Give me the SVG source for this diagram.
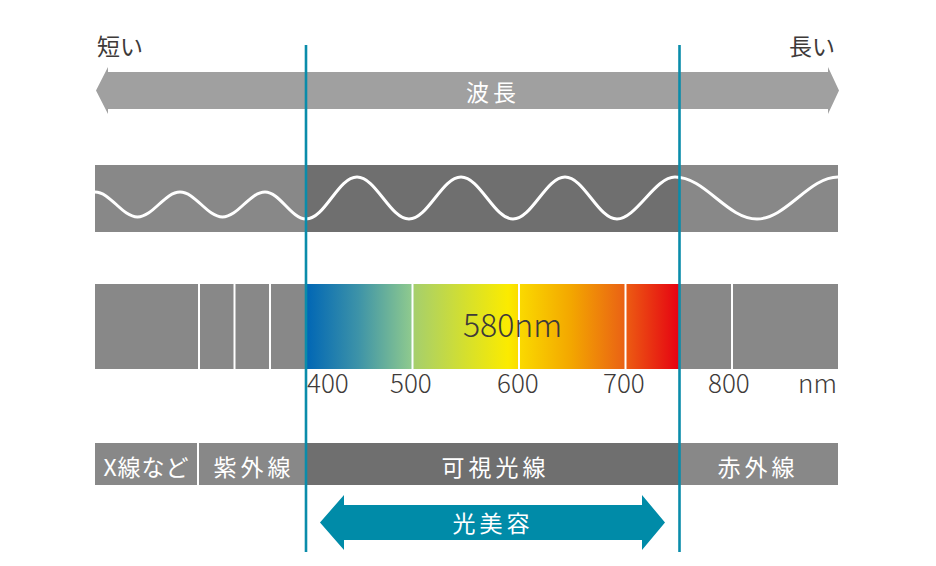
<svg xmlns="http://www.w3.org/2000/svg" width="936" height="566" viewBox="0 0 936 566">
<style>
  text { font-family: "Noto Sans CJK JP", "Noto Sans", sans-serif; }
  .dark { fill: #3e3a39; }
  .wt { fill: #ffffff; font-size: 23px; letter-spacing: 4px; text-anchor: middle; }
  .num { fill: #3e3a39; font-size: 26px; font-weight: 300; }
  .light { fill: #888888; }
  .mid { fill: #6f6f6f; }
  .div { stroke: #ffffff; stroke-width: 2; }
  .vline { stroke: #0a8caa; stroke-width: 2.6; fill: none; }
</style>
<defs>
  <linearGradient id="spec" x1="306" y1="0" x2="680" y2="0" gradientUnits="userSpaceOnUse">
    <stop offset="0" stop-color="#0066b5"/>
    <stop offset="0.14" stop-color="#3d93a8"/>
    <stop offset="0.283" stop-color="#8fca8e"/>
    <stop offset="0.29" stop-color="#a6cf6c"/>
    <stop offset="0.43" stop-color="#d6e02c"/>
    <stop offset="0.54" stop-color="#fbeb00"/>
    <stop offset="0.575" stop-color="#fad800"/>
    <stop offset="0.71" stop-color="#f3a600"/>
    <stop offset="0.85" stop-color="#ea6214"/>
    <stop offset="0.86" stop-color="#ec5912"/>
    <stop offset="1" stop-color="#e50012"/>
  </linearGradient>
</defs>

<g id="label-short"><text class="dark" x="97" y="55" font-size="23">短い</text></g>
<g id="label-long"><text class="dark" x="835" y="55" font-size="23" text-anchor="end">長い</text></g>

<g id="wavelength-arrow">
  <polygon points="96,90.5 108,67 108,72 828,72 828,67 839,90.5 828,114 828,109 108,109 108,114" fill="#a0a0a0"/>
  <text class="wt" x="493" y="100.5">波長</text>
</g>

<g id="wave-band">
  <rect class="light" x="95" y="165" width="211" height="67"/>
  <rect class="mid" x="306" y="165" width="374" height="67"/>
  <rect class="light" x="680" y="165" width="158" height="67"/>
  <path fill="none" stroke="#ffffff" stroke-width="3" d="M95,192
    C110.3,192 122.2,217 137.5,217
    C152.8,217 164.7,192 180,192
    C195.3,192 207.2,217 222.5,217
    C237.8,217 249.7,192 265,192
    C279.8,192 291.2,219 306,219
    C325,219 338,177 357,177
    C376,177 390,219 409,219
    C428,219 442,177 461,177
    C480,177 494,219 513,219
    C532,219 546,177 565,177
    C584,177 598,219 617,219
    C636,219 655,177 675,177
    C705,177 727,219 757,219
    C786,219 809,177 838,177"/>
</g>

<g id="spectrum-band">
  <rect class="light" x="95" y="284" width="211" height="85"/>
  <rect x="306" y="284" width="374" height="85" fill="url(#spec)"/>
  <rect class="light" x="680" y="284" width="158" height="85"/>
  <line class="div" x1="199" y1="284" x2="199" y2="369"/>
  <line class="div" x1="234.5" y1="284" x2="234.5" y2="369"/>
  <line class="div" x1="270" y1="284" x2="270" y2="369"/>
  <line class="div" x1="412.5" y1="284" x2="412.5" y2="369"/>
  <line class="div" x1="519" y1="284" x2="519" y2="369"/>
  <line class="div" x1="625.5" y1="284" x2="625.5" y2="369"/>
  <line class="div" x1="732" y1="284" x2="732" y2="369"/>
  <text class="dark" x="463" y="337" font-size="32" font-weight="300">580nm</text>
</g>

<g id="scale">
  <text class="num" x="307" y="393">400</text>
  <text class="num" x="390" y="393">500</text>
  <text class="num" x="497" y="393">600</text>
  <text class="num" x="603" y="393">700</text>
  <text class="num" x="708" y="393">800</text>
  <text class="num" x="798" y="393">nm</text>
</g>

<g id="cat-xray">
  <rect class="light" x="95" y="443" width="102" height="42"/>
  <text class="wt" x="146.5" y="475.5" style="letter-spacing:1px">X線など</text>
</g>
<g id="cat-uv">
  <rect class="light" x="199" y="443" width="107" height="42"/>
  <text class="wt" x="254" y="475.5">紫外線</text>
</g>
<g id="cat-visible">
  <rect class="mid" x="306" y="443" width="374" height="42"/>
  <text class="wt" x="495.5" y="475.5">可視光線</text>
</g>
<g id="cat-ir">
  <rect class="light" x="680" y="443" width="158" height="42"/>
  <text class="wt" x="758" y="475.5">赤外線</text>
</g>

<g id="beauty-arrow">
  <polygon points="320,522.5 344,495 344,505 642,505 642,495 665,522.5 642,550 642,540 344,540 344,550" fill="#008ba8"/>
  <text class="wt" x="493" y="531.5">光美容</text>
</g>

<g id="connectors">
  <line class="vline" x1="306" y1="45" x2="306" y2="552"/>
  <line class="vline" x1="679.5" y1="45" x2="679.5" y2="552"/>
</g>
</svg>
